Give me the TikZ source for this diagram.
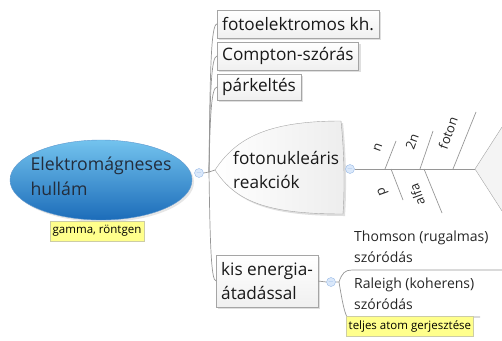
\documentclass[tikz,border=0pt]{standalone}
\usepackage{fontspec}
\setmainfont{Open Sans}
\usetikzlibrary{shapes.geometric}
\usetikzlibrary{shadows}

\definecolor{linegray}{RGB}{150,150,150}
\definecolor{boxline}{RGB}{165,165,165}
\definecolor{notefill}{RGB}{255,255,140}
\definecolor{noteline}{RGB}{205,205,165}
\definecolor{blueup}{RGB}{115,195,238}
\definecolor{bluedown}{RGB}{28,108,185}
\definecolor{textdark}{RGB}{35,45,60}
\definecolor{togglefill}{RGB}{218,232,250}
\definecolor{toggleline}{RGB}{150,185,230}

\tikzset{
  branch/.style={draw=linegray, line width=0.7pt},
  topic/.style={draw=boxline, top color=white, bottom color=gray!12,
    drop shadow={opacity=0.25, shadow xshift=2pt, shadow yshift=-2pt},
    font=\fontsize{17.2}{24}\selectfont, text=black!90,
    inner xsep=5pt, inner ysep=2pt, minimum height=28pt, align=left},
  bubble/.style={ellipse, draw=bluedown!70, top color=blueup, bottom color=bluedown,
    drop shadow={opacity=0.2, shadow xshift=2pt, shadow yshift=-2pt},
    minimum width=182pt, minimum height=80pt, inner sep=0pt},
  note/.style={draw=noteline, fill=notefill, text=black,
    font=\fontsize{11.5}{14}\selectfont, inner xsep=2.5pt, inner ysep=2pt, minimum height=20pt},
  toggle/.style={circle, draw=toggleline, fill=togglefill, minimum size=9pt, inner sep=0pt,
    text=toggleline, font=\fontsize{7}{7}\selectfont},
  sub/.style={font=\fontsize{14}{21}\selectfont, align=left, inner sep=0pt, text=black!85},
  rib/.style={font=\fontsize{13}{15}\selectfont, inner sep=1pt, text=black!85},
}

\begin{document}
\begin{tikzpicture}[x=1pt,y=-1pt]
  \useasboundingbox (0,0) rectangle (502,340);

  % central topic
  \node[bubble] (em) at (101,180) {};
  \node[align=left, text=textdark, font=\fontsize{17.7}{25}\selectfont, inner sep=0pt]
    (emtext) at (101,176) {Elektromágneses\\hullám};
  \node[note] (gamma) at (97,231) {gamma, röntgen};

  \node[toggle] (t0) at (199,173) {$-$};
  \coordinate (jn) at (209,172);
  \draw[branch] (t0.east) -- (jn);

  % first level
  \node[topic, anchor=west] (foto) at (217,24) {fotoelektromos kh.};
  \node[topic, anchor=west] (compton) at (217,56) {Compton-szórás};
  \node[topic, anchor=west, minimum height=26pt] (par) at (217,87) {párkeltés};
  \node[topic, anchor=west, minimum height=52pt] (kisen) at (216,281) {kis energia-\\átadással};

  \draw[branch] (jn) .. controls (210,70) and (211,24) .. (foto.west);
  \draw[branch] (jn) .. controls (210,95) and (211,56) .. (compton.west);
  \draw[branch] (jn) .. controls (210,120) and (211,87) .. (par.west);
  \draw[branch] (jn) .. controls (210,240) and (211,281) .. (kisen.west);

  % fish body for the photonuclear branch
  \coordinate (tip) at (215,170);
  \path[draw=boxline, left color=white, right color=gray!14,
    drop shadow={opacity=0.25, shadow xshift=2pt, shadow yshift=-2pt}]
    (tip) .. controls (236,138) and (268,121) .. (341,121)
    .. controls (344,150) and (345,185) .. (343,214)
    .. controls (268,214) and (236,202) .. (tip) -- cycle;
  \node[align=left, anchor=west, font=\fontsize{17.2}{24}\selectfont, text=black!90, inner sep=0pt]
    (fotonuk) at (233,170) {fotonukleáris\\reakciók};
  \draw[branch] (jn) -- (tip);

  % spine and head
  \node[toggle] (t1) at (350,169) {$-$};
  \coordinate (head) at (475,169);
  \draw[branch] (t1.east) -- (head);
  \fill[gray!9] (head) -- (502,127) -- (502,211) -- cycle;
  \draw[draw=boxline] (502,127) -- (head) -- (502,211);

  % ribs above
  \coordinate (n0) at (385,169); \coordinate (n1) at (396,141);
  \coordinate (d0) at (420,169); \coordinate (d1) at (433,131);
  \coordinate (f0) at (453,169); \coordinate (f1) at (476,112);
  \draw[branch] (n0) -- (n1);
  \draw[branch] (d0) -- (d1);
  \draw[branch] (f0) -- (f1);
  \node[rib, rotate=70] (nlab) at (378,148) {n};
  \node[rib, rotate=70] (dlab) at (412,142) {2n};
  \node[rib, rotate=70] (flab) at (448,133) {foton};

  % ribs below
  \coordinate (p0) at (391,169); \coordinate (p1) at (403,200);
  \coordinate (a0) at (424,169); \coordinate (a1) at (442,213);
  \draw[branch] (p0) -- (p1);
  \draw[branch] (a0) -- (a1);
  \node[rib, rotate=110] (plab) at (383,191) {p};
  \node[rib, rotate=110] (alab) at (417,195) {alfa};

  % low energy transfer
  \node[toggle] (t2) at (331,282) {$-$};
  \draw[branch] (kisen.east) -- (t2.west);
  \coordinate (split) at (339,282);
  \coordinate (thl) at (352,270);
  \coordinate (rl) at (347,317);
  \draw[branch] (t2.east) -- (split) .. controls (342,273) and (345,270) .. (thl) -- (502,270);
  \draw[branch] (split) .. controls (342,300) and (344,311) .. (rl) -- (480,317);
  \node[sub, anchor=west] (thomson) at (354,247) {Thomson (rugalmas)\\szóródás};
  \node[sub, anchor=west] (raleigh) at (354,294) {Raleigh (koherens)\\szóródás};
  \node[note, anchor=north west] (teljes) at (346,316) {teljes atom gerjesztése};
\end{tikzpicture}
\end{document}
